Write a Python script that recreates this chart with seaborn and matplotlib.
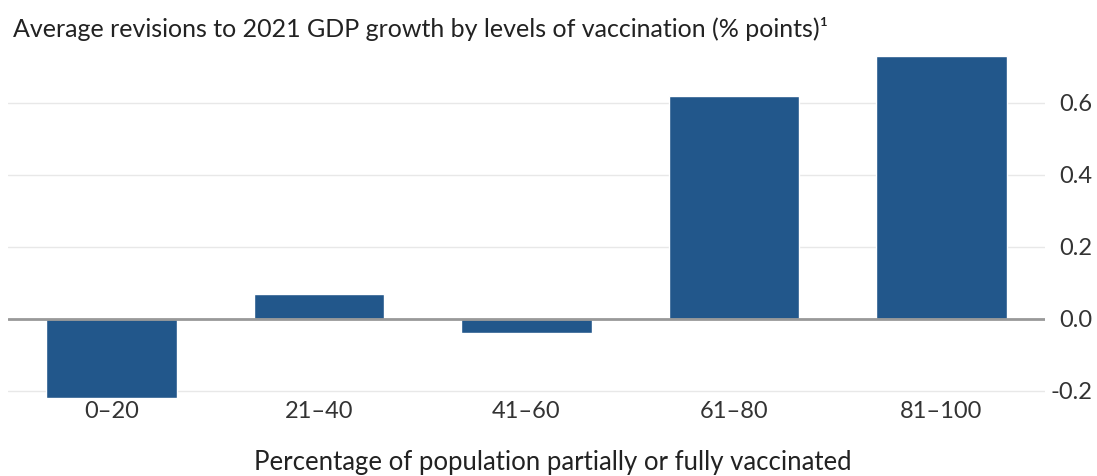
import matplotlib
matplotlib.use("Agg")
import matplotlib.pyplot as plt
import seaborn as sns
import pandas as pd

categories = ["0–20", "21–40", "41–60", "61–80", "81–100"]
revisions = [-0.22, 0.07, -0.04, 0.62, 0.73]
yticks = [-0.2, 0.0, 0.2, 0.4, 0.6]

sns.set_theme(style="white")
plt.rcParams["font.family"] = ["Lato", "DejaVu Sans"]

df = pd.DataFrame({"band": categories, "rev": revisions})

fig = plt.figure(figsize=(10.97, 4.76), dpi=100)
ax = fig.add_axes([0.0073, 0.164, 0.9453, 0.733])

sns.barplot(data=df, x="band", y="rev", color="#22578b", saturation=1,
            width=0.63, ax=ax, zorder=3)

ax.set_xlim(-0.5, 4.5)
ax.set_ylim(-0.22, 0.75)
ax.set_yticks(yticks)
ax.set_yticklabels([f"{v:.1f}" for v in yticks])
ax.yaxis.tick_right()
ax.grid(axis="y", color="#e8e8e8", linewidth=1, zorder=0)
ax.axhline(0, color="#999999", linewidth=2, zorder=4)
for s in ax.spines.values():
    s.set_visible(False)
ax.tick_params(axis="both", length=0, labelsize=17, colors="#333333")
ax.tick_params(axis="y", pad=34)
for lab in ax.get_yticklabels():
    lab.set_horizontalalignment("right")
ax.tick_params(axis="x", pad=2)
ax.set_ylabel("")
ax.set_xlabel("Percentage of population partially or fully vaccinated",
              fontsize=18.5, color="#222222")
ax.xaxis.set_label_coords(0.5256, -0.148)

fig.text(0.012, 0.94, "Average revisions to 2021 GDP growth by levels of vaccination (% points)¹",
         fontsize=18, color="#222222", va="center", ha="left")

fig.savefig("out.png", dpi=100)
